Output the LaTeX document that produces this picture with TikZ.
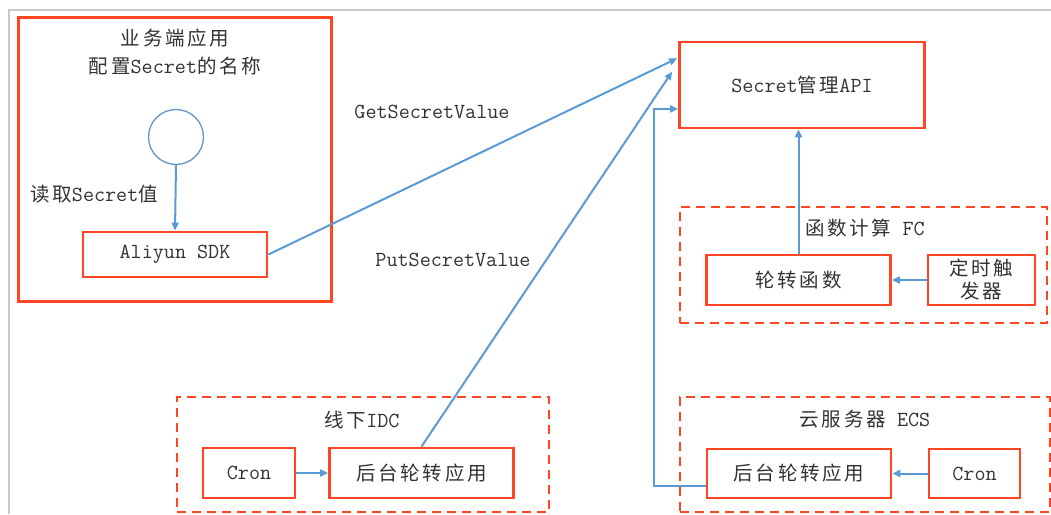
\documentclass[tikz,border=0pt]{standalone}
\usepackage{fontspec}
\newfontfamily\cjk[LetterSpace=14]{Noto Sans CJK SC}
\usetikzlibrary{arrows.meta,calc}
\newcommand\zh[1]{{\cjk\fontsize{19.5}{28}\selectfont #1}}
\definecolor{boxred}{HTML}{FF4522}
\definecolor{linkblue}{HTML}{5B9BD5}
\definecolor{txt}{HTML}{333333}
\definecolor{frame}{HTML}{C8C8C8}
\begin{document}
\begin{tikzpicture}[x=1pt,y=-1pt,
  every node/.style={text=txt,font=\ttfamily\fontsize{21.5}{28}\selectfont},
  solidbox/.style={draw=boxred,line width=2.8pt,inner sep=0pt,
    minimum width=#1},
  groupbox/.style={draw=boxred,line width=2.4pt,dash pattern=on 9pt off 6pt,
    inner sep=0pt},
  link/.style={draw=linkblue,line width=2pt,
    -{Triangle[length=8pt,width=7pt]}},
  caption/.style={inner sep=1pt}]
\useasboundingbox (0,0) rectangle (1051,514);
\fill[white] (0,0) rectangle (1051,514);
% page frame
\draw[frame,line width=2pt] (9,514) -- (9,10) -- (1051,10);

% client application
\node[solidbox=313pt,minimum height=284pt] (client) at (175,159.5) {};
\node[caption,align=center] (clienttitle) at (175,52)
  {\zh{业务端应用}\\\zh{配置}Secret\zh{的名称}};
\node[draw=linkblue!80!gray,line width=1.3pt,circle,minimum size=55pt,
  inner sep=0pt] (cfg) at (176,137) {};
\node[solidbox=184pt,minimum height=45pt] (sdk) at (175,254.5) {Aliyun SDK};
\node[caption,anchor=west] (readlbl) at (29,194) {\zh{读取}Secret\zh{值}};

% Secret management API
\node[solidbox=245pt,minimum height=86pt] (api) at (802,85)
  {Secret\zh{管理}API};

% Function Compute group
\node[groupbox,minimum width=367pt,minimum height=116pt] (fc) at (863.5,265) {};
\node[caption] (fclbl) at (865,228) {\zh{函数计算} FC};
\node[solidbox=184pt,minimum height=50pt] (rot) at (798.5,280) {\zh{轮转函数}};
\node[solidbox=107pt,minimum height=50pt,align=center,
  font=\ttfamily\fontsize{21.5}{23}\selectfont] (timer) at (981.5,280)
  {\zh{定时触}\\\zh{发器}};

% on-premises IDC group
\node[groupbox,minimum width=372pt,minimum height=115pt] (idc) at (363,454.5) {};
\node[caption] (idclbl) at (362,420) {\zh{线下}IDC};
\node[solidbox=92pt,minimum height=50pt] (cron1) at (249,473) {Cron};
\node[solidbox=184pt,minimum height=50pt] (app1) at (421.5,473)
  {\zh{后台轮转应用}};

% ECS group
\node[groupbox,minimum width=370pt,minimum height=115pt] (ecs) at (865,454.5) {};
\node[caption] (ecslbl) at (865,419) {\zh{云服务器} ECS};
\node[solidbox=184pt,minimum height=49pt] (app2) at (799,473.5)
  {\zh{后台轮转应用}};
\node[solidbox=91pt,minimum height=49pt] (cron2) at (974.5,473.5) {Cron};

% API call labels
\node[caption] (getlbl) at (432,112) {GetSecretValue};
\node[caption] (putlbl) at (453,260) {PutSecretValue};

% connectors
\coordinate (getend) at ($(api.north west)!0.2!(api.south west)+(-1,0)$);
\coordinate (putend) at ($(api.north west)!0.35!(api.south west)+(-6,0)$);
\coordinate (ecsend) at ($(api.north west)!0.77!(api.south west)$);
\coordinate (ecsout) at ($(app2.north west)!0.75!(app2.south west)$);

\draw[link] (cfg.south) -- (sdk.north);
\draw[link] (sdk.east) -- (getend);
\draw[link] (app1.north) -- (putend);
\draw[link] (ecsout) -- ++(-52,0) |- (ecsend);
\draw[link] (rot.north) -- (rot.north |- api.south);
\draw[link] (timer.west) -- (rot.east);
\draw[link] (cron1.east) -- (app1.west);
\draw[link] (cron2.west) -- (app2.east);
\end{tikzpicture}
\end{document}
